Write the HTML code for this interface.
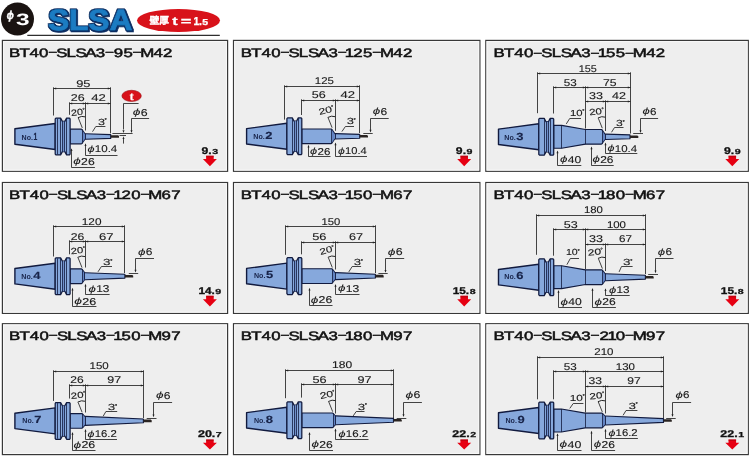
<!DOCTYPE html>
<html lang="ja"><head><meta charset="utf-8"><title>SLSA φ3</title>
<style>html,body{margin:0;padding:0;background:#fff}svg{display:block;will-change:transform;text-rendering:geometricPrecision;font-family:"Liberation Sans",sans-serif}.cjk{font-family:"Liberation Sans","Noto Sans CJK JP",sans-serif}.serif{font-family:"Liberation Serif",serif}</style></head>
<body>
<svg width="750" height="458" viewBox="0 0 750 458" >
<rect width="750" height="458" fill="#fff"/>
<path d="M27.30 35.40L219.80 35.40" stroke="#2e2e2e" stroke-width="1.3" fill="none"/>
<circle cx="17.5" cy="19.1" r="16.5" fill="#1a1311"/>
<text x="6.7" y="19.0" font-size="11.5" font-weight="bold" font-style="italic" fill="#fff" stroke="#fff" stroke-width="0.5" textLength="7.0" lengthAdjust="spacingAndGlyphs">ϕ</text>
<text x="16.00" y="25.40" font-size="16.6" font-weight="bold" fill="#fff" textLength="13.60" lengthAdjust="spacingAndGlyphs" >3</text>
<defs><filter id="sh" x="-5%" y="-10%" width="110%" height="130%"><feMorphology in="SourceAlpha" operator="dilate" radius="0.9" result="d"/><feOffset in="d" dx="1" dy="1" result="o"/><feMerge result="m"><feMergeNode in="d"/><feMergeNode in="o"/></feMerge><feFlood flood-color="#0d2f63"/><feComposite in2="m" operator="in" result="s"/><feMerge><feMergeNode in="s"/><feMergeNode in="SourceGraphic"/></feMerge></filter></defs>
<text x="47.9" y="30.0" font-weight="bold" font-size="29.4" fill="#1b7bc2" stroke="#1b7bc2" stroke-width="0.7" stroke-linejoin="round" filter="url(#sh)" textLength="84.5" lengthAdjust="spacingAndGlyphs">SLSA</text>
<ellipse cx="178.5" cy="20.5" rx="41.5" ry="11.5" fill="#d8121a"/>
<text x="149.6" y="24.4" font-size="9.8" font-weight="bold" fill="#fff" class="cjk" stroke="#fff" stroke-width="0.45" textLength="19.4" lengthAdjust="spacingAndGlyphs">壁厚</text>
<g stroke="#fff" stroke-width="0.3">
<text x="172.30" y="24.80" font-size="11.6" font-weight="bold" fill="#fff" textLength="5.40" lengthAdjust="spacingAndGlyphs" >t</text>
<text x="180.80" y="24.60" font-size="11.6" font-weight="bold" fill="#fff" textLength="10.60" lengthAdjust="spacingAndGlyphs" >=</text>
<text x="193.40" y="24.80" font-size="11.6" font-weight="bold" fill="#fff" textLength="8.60" lengthAdjust="spacingAndGlyphs" >1.</text>
<text x="202.30" y="24.80" font-size="8.6" font-weight="bold" fill="#fff" textLength="5.80" lengthAdjust="spacingAndGlyphs" >5</text>
</g>
<rect x="2.40" y="40.40" width="225.20" height="130.90" fill="#eeeeee" stroke="#383838" stroke-width="1.2"/>
<rect x="3.60" y="41.60" width="222.80" height="128.50" fill="none" stroke="#f8f8f8" stroke-width="1.0"/>
<rect x="233.50" y="40.40" width="246.40" height="130.90" fill="#eeeeee" stroke="#383838" stroke-width="1.2"/>
<rect x="234.70" y="41.60" width="244.00" height="128.50" fill="none" stroke="#f8f8f8" stroke-width="1.0"/>
<rect x="485.80" y="40.40" width="262.50" height="130.90" fill="#eeeeee" stroke="#383838" stroke-width="1.2"/>
<rect x="487.00" y="41.60" width="260.10" height="128.50" fill="none" stroke="#f8f8f8" stroke-width="1.0"/>
<rect x="2.40" y="182.50" width="225.20" height="130.90" fill="#eeeeee" stroke="#383838" stroke-width="1.2"/>
<rect x="3.60" y="183.70" width="222.80" height="128.50" fill="none" stroke="#f8f8f8" stroke-width="1.0"/>
<rect x="233.50" y="182.50" width="246.40" height="130.90" fill="#eeeeee" stroke="#383838" stroke-width="1.2"/>
<rect x="234.70" y="183.70" width="244.00" height="128.50" fill="none" stroke="#f8f8f8" stroke-width="1.0"/>
<rect x="485.80" y="182.50" width="262.50" height="130.90" fill="#eeeeee" stroke="#383838" stroke-width="1.2"/>
<rect x="487.00" y="183.70" width="260.10" height="128.50" fill="none" stroke="#f8f8f8" stroke-width="1.0"/>
<rect x="2.40" y="323.70" width="225.20" height="130.90" fill="#eeeeee" stroke="#383838" stroke-width="1.2"/>
<rect x="3.60" y="324.90" width="222.80" height="128.50" fill="none" stroke="#f8f8f8" stroke-width="1.0"/>
<rect x="233.50" y="323.70" width="246.40" height="130.90" fill="#eeeeee" stroke="#383838" stroke-width="1.2"/>
<rect x="234.70" y="324.90" width="244.00" height="128.50" fill="none" stroke="#f8f8f8" stroke-width="1.0"/>
<rect x="485.80" y="323.70" width="262.50" height="130.90" fill="#eeeeee" stroke="#383838" stroke-width="1.2"/>
<rect x="487.00" y="324.90" width="260.10" height="128.50" fill="none" stroke="#f8f8f8" stroke-width="1.0"/>
<text transform="scale(1.38 1)" x="6.57 14.07 21.41 28.35 35.02 40.78 48.13 54.73 61.70 69.39 76.02 82.45 89.44 96.10 101.69 111.25 118.19" y="56.80" font-size="12.2" fill="#111" stroke="#111" stroke-width="0.5">BT40<tspan font-size="11.2" dy="-0.4">−</tspan><tspan dy="0.4">S</tspan>LSA3<tspan font-size="11.2" dy="-0.4">−</tspan><tspan dy="0.4">9</tspan>5<tspan font-size="11.2" dy="-0.4">−</tspan><tspan dy="0.4">M</tspan>42</text>
<polygon points="14.90,128.80 55.20,123.50 55.20,149.50 14.90,144.20" fill="#86a8dc" stroke="#111a3e" stroke-width="1.4" stroke-linejoin="round"/>
<polygon points="70.10,129.15 81.41,129.15 82.01,129.60 84.90,133.78 85.60,133.78 110.70,134.60 110.70,138.40 85.60,139.22 84.90,139.22 82.01,143.40 81.41,143.85 70.10,143.85" fill="#86a8dc" stroke="#111a3e" stroke-width="1.15" stroke-linejoin="round"/>
<polygon points="82.01,129.70 84.90,134.08 84.90,138.92 82.01,143.30" fill="#5676b8" opacity="0.75"/>
<path d="M82.50 129.50L82.50 143.50" stroke="#111a3e" stroke-width="0.8" fill="none"/>
<path d="M85.50 133.78L85.50 139.22" stroke="#111a3e" stroke-width="0.9" fill="none"/>
<path d="M110.70 135.20H118.10L119.00 136.10V137.80H110.70Z" fill="#2a2422"/>
<path d="M55.90 118.10H60.60L62.40 121.40H64.80L66.60 118.10H69.50L70.10 118.90V154.10L69.50 154.90H66.60L64.80 151.60H62.40L60.60 154.90H55.90L55.20 154.10V118.90Z" fill="#86a8dc" stroke="#111a3e" stroke-width="1.25" stroke-linejoin="round"/>
<rect x="62.60" y="121.40" width="2.0" height="30.20" fill="#6f8fcb"/>
<path d="M57.50 118.70L57.50 154.30" stroke="#111a3e" stroke-width="0.8" fill="none"/>
<path d="M60.50 118.50L60.50 154.50" stroke="#111a3e" stroke-width="0.8" fill="none"/>
<path d="M62.50 121.40L62.50 151.60" stroke="#111a3e" stroke-width="0.8" fill="none"/>
<path d="M64.50 121.40L64.50 151.60" stroke="#111a3e" stroke-width="0.8" fill="none"/>
<path d="M66.50 118.50L66.50 154.50" stroke="#111a3e" stroke-width="0.8" fill="none"/>
<path d="M53.50 88.50L110.50 88.50" stroke="#242424" stroke-width="0.85" fill="none"/>
<polygon points="53.50,88.50 56.20,87.50 56.20,89.50" fill="#242424"/>
<polygon points="110.50,88.50 107.80,87.50 107.80,89.50" fill="#242424"/>
<path d="M53.50 87.30L53.50 115.50" stroke="#242424" stroke-width="0.85" fill="none"/>
<path d="M110.50 87.30L110.50 133.30" stroke="#242424" stroke-width="0.85" fill="none"/>
<text x="76.20" y="86.50" font-size="9.8" font-weight="normal" fill="#1a1a1a" textLength="14.30" lengthAdjust="spacingAndGlyphs" stroke="#1a1a1a" stroke-width="0.12" >95</text>
<path d="M69.50 103.50L110.50 103.50" stroke="#242424" stroke-width="0.85" fill="none"/>
<polygon points="69.50,103.50 72.20,102.50 72.20,104.50" fill="#242424"/>
<polygon points="85.50,103.50 82.80,102.50 82.80,104.50" fill="#242424"/>
<polygon points="85.50,103.50 88.20,102.50 88.20,104.50" fill="#242424"/>
<polygon points="110.50,103.50 107.80,102.50 107.80,104.50" fill="#242424"/>
<path d="M69.50 102.30L69.50 114.80" stroke="#242424" stroke-width="0.85" fill="none"/>
<path d="M85.50 102.30L85.50 130.50" stroke="#242424" stroke-width="0.85" fill="none"/>
<text x="70.80" y="101.00" font-size="9.8" font-weight="normal" fill="#1a1a1a" textLength="13.90" lengthAdjust="spacingAndGlyphs" stroke="#1a1a1a" stroke-width="0.12" >26</text>
<text x="91.20" y="101.00" font-size="9.8" font-weight="normal" fill="#1a1a1a" textLength="14.60" lengthAdjust="spacingAndGlyphs" stroke="#1a1a1a" stroke-width="0.12" >42</text>
<g transform="rotate(-6 71.7 115.9)">
<text x="71.30" y="115.90" font-size="8.8" font-weight="normal" fill="#1a1a1a" textLength="12.20" lengthAdjust="spacingAndGlyphs" stroke="#1a1a1a" stroke-width="0.12" >20</text>
<text x="83.20" y="113.30" font-size="5.6" font-weight="normal" fill="#1a1a1a" stroke="#1a1a1a" stroke-width="0.25" >°</text>
</g>
<path d="M82.30 127.90L78.30 117.90" stroke="#242424" stroke-width="0.85" fill="none"/>
<path d="M77.90 117.70Q81.80 115.50 85.30 116.90" stroke="#242424" stroke-width="1.0" fill="none"/>
<g >
<text x="97.90" y="125.00" font-size="8.8" font-weight="normal" fill="#1a1a1a" textLength="7.00" lengthAdjust="spacingAndGlyphs" stroke="#1a1a1a" stroke-width="0.12" >3</text>
<text x="104.60" y="122.40" font-size="5.6" font-weight="normal" fill="#1a1a1a" stroke="#1a1a1a" stroke-width="0.25" >°</text>
</g>
<path d="M105.40 126.50H95.80L92.50 131.70" stroke="#242424" stroke-width="0.85" fill="none"/>
<text x="87.50" y="151.95" font-size="8.91" font-style="italic" fill="#1a1a1a" stroke="#1a1a1a" stroke-width="0.06" textLength="7.05" lengthAdjust="spacingAndGlyphs">ϕ</text>
<text x="94.85" y="152.25" font-size="9.9" font-weight="normal" fill="#1a1a1a" textLength="22.45" lengthAdjust="spacingAndGlyphs" stroke="#1a1a1a" stroke-width="0.12" >10.4</text>
<path d="M117.50 155.50H85.50V144.30" stroke="#242424" stroke-width="0.85" fill="none"/>
<polygon points="85.50,143.30 84.50,146.00 86.50,146.00" fill="#242424"/>
<text x="73.30" y="164.25" font-size="8.91" font-style="italic" fill="#1a1a1a" stroke="#1a1a1a" stroke-width="0.06" textLength="7.53" lengthAdjust="spacingAndGlyphs">ϕ</text>
<text x="81.13" y="164.55" font-size="9.9" font-weight="normal" fill="#1a1a1a" textLength="13.57" lengthAdjust="spacingAndGlyphs" stroke="#1a1a1a" stroke-width="0.12" >26</text>
<path d="M94.90 167.50H71.50V149.20" stroke="#242424" stroke-width="0.85" fill="none"/>
<polygon points="71.50,148.20 70.50,150.90 72.50,150.90" fill="#242424"/>
<text x="21.60" y="139.80" font-size="7.3" font-weight="bold" fill="#18244a" textLength="11.40" lengthAdjust="spacingAndGlyphs" >No.</text>
<text x="33.50" y="139.80" font-size="10.3" font-weight="bold" fill="#18244a" textLength="3.80" lengthAdjust="spacingAndGlyphs" stroke="#18244a" stroke-width="0.15" >1</text>
<ellipse cx="131.6" cy="95.9" rx="9.7" ry="5.6" fill="#d8121a" stroke="#9a0a10" stroke-width="0.6"/>
<text x="131.6" y="99.7" font-size="11.5" font-weight="bold" fill="#fff" stroke="#fff" stroke-width="0.3" text-anchor="middle" class="serif">t</text>
<path d="M138.6 103.5H123.5V129.5" stroke="#242424" stroke-width="0.85" fill="none"/>
<polygon points="123.50,133.00 122.50,130.30 124.50,130.30" fill="#242424"/>
<path d="M112.40 133.50L132.60 133.50" stroke="#242424" stroke-width="0.85" fill="none"/>
<path d="M119.50 135.50L126.00 135.50" stroke="#242424" stroke-width="0.85" fill="none"/>
<path d="M123.50 139.00L123.50 143.60" stroke="#242424" stroke-width="0.85" fill="none"/>
<polygon points="123.50,136.20 122.50,138.90 124.50,138.90" fill="#242424"/>
<text x="132.70" y="115.40" font-size="8.91" font-style="italic" fill="#1a1a1a" stroke="#1a1a1a" stroke-width="0.06" textLength="7.71" lengthAdjust="spacingAndGlyphs">ϕ</text>
<text x="140.71" y="115.70" font-size="9.9" font-weight="normal" fill="#1a1a1a" textLength="6.89" lengthAdjust="spacingAndGlyphs" stroke="#1a1a1a" stroke-width="0.12" >6</text>
<path d="M149.10 118.50H131.50V132.00" stroke="#242424" stroke-width="0.85" fill="none"/>
<polygon points="131.50,133.00 130.50,130.30 132.50,130.30" fill="#242424"/>
<text x="201.55" y="153.70" font-size="9.7" font-weight="bold" fill="#111" textLength="10.20" lengthAdjust="spacingAndGlyphs" stroke="#111" stroke-width="0.3" >9.</text>
<text x="212.25" y="153.70" font-size="7.2" font-weight="bold" fill="#111" textLength="5.90" lengthAdjust="spacingAndGlyphs" stroke="#111" stroke-width="0.25" >3</text>
<polygon points="206.12,155.70 213.68,155.70 213.68,159.06 216.90,159.06 209.90,166.20 202.90,159.06 206.12,159.06" fill="#e60012"/>
<polygon points="206.12,155.70 213.68,155.70 213.68,157.30 206.12,157.30" fill="#a8000c" opacity="0.55"/>
<text transform="scale(1.38 1)" x="174.50 182.09 189.51 196.54 203.29 209.12 216.55 223.24 230.30 238.07 244.78 249.90 255.90 262.97 269.71 275.39 285.04 292.06" y="56.80" font-size="12.2" fill="#111" stroke="#111" stroke-width="0.5">BT40<tspan font-size="11.2" dy="-0.4">−</tspan><tspan dy="0.4">S</tspan>LSA3<tspan font-size="11.2" dy="-0.4">−</tspan><tspan dy="0.4">1</tspan>25<tspan font-size="11.2" dy="-0.4">−</tspan><tspan dy="0.4">M</tspan>42</text>
<polygon points="246.60,128.60 286.90,123.30 286.90,149.30 246.60,144.00" fill="#86a8dc" stroke="#111a3e" stroke-width="1.4" stroke-linejoin="round"/>
<polygon points="301.80,128.95 331.21,128.95 331.81,129.40 334.70,133.58 335.40,133.58 359.70,134.40 359.70,138.20 335.40,139.02 334.70,139.02 331.81,143.20 331.21,143.65 301.80,143.65" fill="#86a8dc" stroke="#111a3e" stroke-width="1.15" stroke-linejoin="round"/>
<polygon points="331.81,129.50 334.70,133.88 334.70,138.72 331.81,143.10" fill="#5676b8" opacity="0.75"/>
<path d="M331.50 129.30L331.50 143.30" stroke="#111a3e" stroke-width="0.8" fill="none"/>
<path d="M335.50 133.58L335.50 139.02" stroke="#111a3e" stroke-width="0.9" fill="none"/>
<path d="M359.70 135.00H367.10L368.00 135.90V137.60H359.70Z" fill="#2a2422"/>
<path d="M287.60 117.90H292.30L294.10 121.20H296.50L298.30 117.90H301.20L301.80 118.70V153.90L301.20 154.70H298.30L296.50 151.40H294.10L292.30 154.70H287.60L286.90 153.90V118.70Z" fill="#86a8dc" stroke="#111a3e" stroke-width="1.25" stroke-linejoin="round"/>
<rect x="294.30" y="121.20" width="2.0" height="30.20" fill="#6f8fcb"/>
<path d="M292.50 118.30L292.50 154.30" stroke="#111a3e" stroke-width="0.8" fill="none"/>
<path d="M294.50 121.20L294.50 151.40" stroke="#111a3e" stroke-width="0.8" fill="none"/>
<path d="M296.50 121.20L296.50 151.40" stroke="#111a3e" stroke-width="0.8" fill="none"/>
<path d="M298.50 118.30L298.50 154.30" stroke="#111a3e" stroke-width="0.8" fill="none"/>
<path d="M284.50 86.50L359.50 86.50" stroke="#242424" stroke-width="0.85" fill="none"/>
<polygon points="284.50,86.50 287.20,85.50 287.20,87.50" fill="#242424"/>
<polygon points="359.50,86.50 356.80,85.50 356.80,87.50" fill="#242424"/>
<path d="M284.50 85.30L284.50 119.60" stroke="#242424" stroke-width="0.85" fill="none"/>
<path d="M359.50 85.30L359.50 133.00" stroke="#242424" stroke-width="0.85" fill="none"/>
<text x="314.80" y="84.20" font-size="9.8" font-weight="normal" fill="#1a1a1a" textLength="19.10" lengthAdjust="spacingAndGlyphs" stroke="#1a1a1a" stroke-width="0.12" >125</text>
<path d="M301.50 100.50L359.50 100.50" stroke="#242424" stroke-width="0.85" fill="none"/>
<polygon points="301.50,100.50 304.20,99.50 304.20,101.50" fill="#242424"/>
<polygon points="335.50,100.50 332.80,99.50 332.80,101.50" fill="#242424"/>
<polygon points="335.50,100.50 338.20,99.50 338.20,101.50" fill="#242424"/>
<polygon points="359.50,100.50 356.80,99.50 356.80,101.50" fill="#242424"/>
<path d="M301.50 99.30L301.50 115.00" stroke="#242424" stroke-width="0.85" fill="none"/>
<path d="M335.50 99.30L335.50 130.80" stroke="#242424" stroke-width="0.85" fill="none"/>
<text x="311.80" y="98.30" font-size="9.8" font-weight="normal" fill="#1a1a1a" textLength="14.00" lengthAdjust="spacingAndGlyphs" stroke="#1a1a1a" stroke-width="0.12" >56</text>
<text x="340.50" y="98.30" font-size="9.8" font-weight="normal" fill="#1a1a1a" textLength="14.50" lengthAdjust="spacingAndGlyphs" stroke="#1a1a1a" stroke-width="0.12" >42</text>
<g transform="rotate(-14.5 319.8 115.0)">
<text x="319.40" y="115.00" font-size="8.8" font-weight="normal" fill="#1a1a1a" textLength="13.70" lengthAdjust="spacingAndGlyphs" stroke="#1a1a1a" stroke-width="0.12" >20</text>
<text x="332.80" y="112.40" font-size="5.6" font-weight="normal" fill="#1a1a1a" stroke="#1a1a1a" stroke-width="0.25" >°</text>
</g>
<path d="M332.10 127.70L328.10 117.70" stroke="#242424" stroke-width="0.85" fill="none"/>
<path d="M327.70 117.50Q331.60 115.30 335.10 116.70" stroke="#242424" stroke-width="1.0" fill="none"/>
<g >
<text x="346.70" y="124.30" font-size="8.8" font-weight="normal" fill="#1a1a1a" textLength="7.20" lengthAdjust="spacingAndGlyphs" stroke="#1a1a1a" stroke-width="0.12" >3</text>
<text x="353.60" y="121.70" font-size="5.6" font-weight="normal" fill="#1a1a1a" stroke="#1a1a1a" stroke-width="0.25" >°</text>
</g>
<path d="M354.00 126.50H345.40L341.90 131.60" stroke="#242424" stroke-width="0.85" fill="none"/>
<text x="310.00" y="154.25" font-size="8.91" font-style="italic" fill="#1a1a1a" stroke="#1a1a1a" stroke-width="0.06" textLength="7.17" lengthAdjust="spacingAndGlyphs">ϕ</text>
<text x="317.47" y="154.55" font-size="9.9" font-weight="normal" fill="#1a1a1a" textLength="12.83" lengthAdjust="spacingAndGlyphs" stroke="#1a1a1a" stroke-width="0.12" >26</text>
<path d="M330.50 156.50H308.50V145.80" stroke="#242424" stroke-width="0.85" fill="none"/>
<polygon points="308.50,144.80 307.50,147.50 309.50,147.50" fill="#242424"/>
<text x="338.00" y="153.95" font-size="8.91" font-style="italic" fill="#1a1a1a" stroke="#1a1a1a" stroke-width="0.06" textLength="6.83" lengthAdjust="spacingAndGlyphs">ϕ</text>
<text x="345.13" y="154.25" font-size="9.9" font-weight="normal" fill="#1a1a1a" textLength="21.67" lengthAdjust="spacingAndGlyphs" stroke="#1a1a1a" stroke-width="0.12" >10.4</text>
<path d="M367.00 156.50H335.50V143.50" stroke="#242424" stroke-width="0.85" fill="none"/>
<polygon points="335.50,142.50 334.50,145.20 336.50,145.20" fill="#242424"/>
<text x="253.30" y="139.40" font-size="7.3" font-weight="bold" fill="#18244a" textLength="11.40" lengthAdjust="spacingAndGlyphs" >No.</text>
<text x="265.20" y="139.40" font-size="10.3" font-weight="bold" fill="#18244a" textLength="7.20" lengthAdjust="spacingAndGlyphs" stroke="#18244a" stroke-width="0.15" >2</text>
<text x="372.70" y="114.40" font-size="8.91" font-style="italic" fill="#1a1a1a" stroke="#1a1a1a" stroke-width="0.06" textLength="7.51" lengthAdjust="spacingAndGlyphs">ϕ</text>
<text x="380.51" y="114.70" font-size="9.9" font-weight="normal" fill="#1a1a1a" textLength="6.69" lengthAdjust="spacingAndGlyphs" stroke="#1a1a1a" stroke-width="0.12" >6</text>
<path d="M388.70 118.50H370.50V131.40" stroke="#242424" stroke-width="0.85" fill="none"/>
<polygon points="370.50,132.40 369.50,129.70 371.50,129.70" fill="#242424"/>
<path d="M363.30 133.50L372.70 133.50" stroke="#242424" stroke-width="0.85" fill="none"/>
<text x="455.85" y="153.70" font-size="9.7" font-weight="bold" fill="#111" textLength="10.20" lengthAdjust="spacingAndGlyphs" stroke="#111" stroke-width="0.3" >9.</text>
<text x="466.55" y="153.70" font-size="7.2" font-weight="bold" fill="#111" textLength="5.90" lengthAdjust="spacingAndGlyphs" stroke="#111" stroke-width="0.25" >9</text>
<polygon points="460.42,155.70 467.98,155.70 467.98,159.06 471.20,159.06 464.20,166.20 457.20,159.06 460.42,159.06" fill="#e60012"/>
<polygon points="460.42,155.70 467.98,155.70 467.98,157.30 460.42,157.30" fill="#a8000c" opacity="0.55"/>
<text transform="scale(1.38 1)" x="357.69 365.28 372.70 379.73 386.47 392.31 399.74 406.43 413.48 421.26 427.97 433.09 439.10 446.16 452.90 458.58 468.23 475.25" y="57.00" font-size="12.2" fill="#111" stroke="#111" stroke-width="0.5">BT40<tspan font-size="11.2" dy="-0.4">−</tspan><tspan dy="0.4">S</tspan>LSA3<tspan font-size="11.2" dy="-0.4">−</tspan><tspan dy="0.4">1</tspan>55<tspan font-size="11.2" dy="-0.4">−</tspan><tspan dy="0.4">M</tspan>42</text>
<polygon points="498.50,129.10 538.80,123.80 538.80,149.80 498.50,144.50" fill="#86a8dc" stroke="#111a3e" stroke-width="1.4" stroke-linejoin="round"/>
<polygon points="553.70,125.35 561.60,125.35 585.40,129.45 601.41,129.45 602.01,129.90 604.90,134.08 605.60,134.08 630.00,134.90 630.00,138.70 605.60,139.52 604.90,139.52 602.01,143.70 601.41,144.15 585.40,144.15 561.60,148.25 553.70,148.25" fill="#86a8dc" stroke="#111a3e" stroke-width="1.15" stroke-linejoin="round"/>
<path d="M561.50 125.35L561.50 148.25" stroke="#111a3e" stroke-width="0.8" fill="none"/>
<path d="M585.50 129.45L585.50 144.15" stroke="#111a3e" stroke-width="0.8" fill="none"/>
<polygon points="602.01,130.00 604.90,134.38 604.90,139.22 602.01,143.60" fill="#5676b8" opacity="0.75"/>
<path d="M602.50 129.80L602.50 143.80" stroke="#111a3e" stroke-width="0.8" fill="none"/>
<path d="M605.50 134.08L605.50 139.52" stroke="#111a3e" stroke-width="0.9" fill="none"/>
<path d="M630.00 135.50H637.40L638.30 136.40V138.10H630.00Z" fill="#2a2422"/>
<path d="M539.50 118.40H544.20L546.00 121.70H548.40L550.20 118.40H553.10L553.70 119.20V154.40L553.10 155.20H550.20L548.40 151.90H546.00L544.20 155.20H539.50L538.80 154.40V119.20Z" fill="#86a8dc" stroke="#111a3e" stroke-width="1.25" stroke-linejoin="round"/>
<rect x="546.20" y="121.70" width="2.0" height="30.20" fill="#6f8fcb"/>
<path d="M544.50 118.80L544.50 154.80" stroke="#111a3e" stroke-width="0.8" fill="none"/>
<path d="M546.50 121.70L546.50 151.90" stroke="#111a3e" stroke-width="0.8" fill="none"/>
<path d="M548.50 121.70L548.50 151.90" stroke="#111a3e" stroke-width="0.8" fill="none"/>
<path d="M550.50 118.80L550.50 154.80" stroke="#111a3e" stroke-width="0.8" fill="none"/>
<path d="M537.50 73.50L630.50 73.50" stroke="#242424" stroke-width="0.85" fill="none"/>
<polygon points="537.50,73.50 540.20,72.50 540.20,74.50" fill="#242424"/>
<polygon points="630.50,73.50 627.80,72.50 627.80,74.50" fill="#242424"/>
<path d="M537.50 72.30L537.50 113.20" stroke="#242424" stroke-width="0.85" fill="none"/>
<path d="M630.50 72.30L630.50 133.50" stroke="#242424" stroke-width="0.85" fill="none"/>
<text x="578.80" y="71.60" font-size="9.8" font-weight="normal" fill="#1a1a1a" textLength="18.10" lengthAdjust="spacingAndGlyphs" stroke="#1a1a1a" stroke-width="0.12" >155</text>
<path d="M553.50 87.50L630.50 87.50" stroke="#242424" stroke-width="0.85" fill="none"/>
<polygon points="553.50,87.50 556.20,86.50 556.20,88.50" fill="#242424"/>
<polygon points="585.50,87.50 582.80,86.50 582.80,88.50" fill="#242424"/>
<polygon points="585.50,87.50 588.20,86.50 588.20,88.50" fill="#242424"/>
<polygon points="630.50,87.50 627.80,86.50 627.80,88.50" fill="#242424"/>
<path d="M553.50 86.30L553.50 113.50" stroke="#242424" stroke-width="0.85" fill="none"/>
<path d="M585.50 86.30L585.50 128.50" stroke="#242424" stroke-width="0.85" fill="none"/>
<text x="563.80" y="86.30" font-size="9.8" font-weight="normal" fill="#1a1a1a" textLength="13.00" lengthAdjust="spacingAndGlyphs" stroke="#1a1a1a" stroke-width="0.12" >53</text>
<text x="602.90" y="86.30" font-size="9.8" font-weight="normal" fill="#1a1a1a" textLength="13.60" lengthAdjust="spacingAndGlyphs" stroke="#1a1a1a" stroke-width="0.12" >75</text>
<path d="M585.50 101.50L630.50 101.50" stroke="#242424" stroke-width="0.85" fill="none"/>
<polygon points="585.50,101.50 588.20,100.50 588.20,102.50" fill="#242424"/>
<polygon points="605.50,101.50 602.80,100.50 602.80,102.50" fill="#242424"/>
<polygon points="605.50,101.50 608.20,100.50 608.20,102.50" fill="#242424"/>
<polygon points="630.50,101.50 627.80,100.50 627.80,102.50" fill="#242424"/>
<path d="M605.50 100.30L605.50 131.00" stroke="#242424" stroke-width="0.85" fill="none"/>
<text x="588.90" y="99.40" font-size="9.8" font-weight="normal" fill="#1a1a1a" textLength="14.00" lengthAdjust="spacingAndGlyphs" stroke="#1a1a1a" stroke-width="0.12" >33</text>
<text x="612.00" y="99.40" font-size="9.8" font-weight="normal" fill="#1a1a1a" textLength="14.00" lengthAdjust="spacingAndGlyphs" stroke="#1a1a1a" stroke-width="0.12" >42</text>
<g >
<text x="569.90" y="116.00" font-size="8.8" font-weight="normal" fill="#1a1a1a" textLength="12.60" lengthAdjust="spacingAndGlyphs" stroke="#1a1a1a" stroke-width="0.12" >10</text>
<text x="582.20" y="113.40" font-size="5.6" font-weight="normal" fill="#1a1a1a" stroke="#1a1a1a" stroke-width="0.25" >°</text>
</g>
<path d="M581.00 118.50H569.70L566.30 123.90" stroke="#242424" stroke-width="0.85" fill="none"/>
<g transform="rotate(-6 589.8 115.3)">
<text x="589.40" y="115.30" font-size="8.8" font-weight="normal" fill="#1a1a1a" textLength="12.90" lengthAdjust="spacingAndGlyphs" stroke="#1a1a1a" stroke-width="0.12" >20</text>
<text x="602.00" y="112.70" font-size="5.6" font-weight="normal" fill="#1a1a1a" stroke="#1a1a1a" stroke-width="0.25" >°</text>
</g>
<path d="M602.30 128.20L598.30 118.20" stroke="#242424" stroke-width="0.85" fill="none"/>
<path d="M597.90 118.00Q601.80 115.80 605.30 117.20" stroke="#242424" stroke-width="1.0" fill="none"/>
<g >
<text x="616.10" y="126.10" font-size="8.8" font-weight="normal" fill="#1a1a1a" textLength="6.80" lengthAdjust="spacingAndGlyphs" stroke="#1a1a1a" stroke-width="0.12" >3</text>
<text x="622.60" y="123.50" font-size="5.6" font-weight="normal" fill="#1a1a1a" stroke="#1a1a1a" stroke-width="0.25" >°</text>
</g>
<path d="M623.50 127.50H614.50L611.50 132.30" stroke="#242424" stroke-width="0.85" fill="none"/>
<text x="607.50" y="151.25" font-size="8.91" font-style="italic" fill="#1a1a1a" stroke="#1a1a1a" stroke-width="0.06" textLength="7.00" lengthAdjust="spacingAndGlyphs">ϕ</text>
<text x="614.80" y="151.55" font-size="9.9" font-weight="normal" fill="#1a1a1a" textLength="22.30" lengthAdjust="spacingAndGlyphs" stroke="#1a1a1a" stroke-width="0.12" >10.4</text>
<path d="M637.30 153.50H605.50V143.60" stroke="#242424" stroke-width="0.85" fill="none"/>
<polygon points="605.50,142.60 604.50,145.30 606.50,145.30" fill="#242424"/>
<text x="559.90" y="162.45" font-size="8.91" font-style="italic" fill="#1a1a1a" stroke="#1a1a1a" stroke-width="0.06" textLength="7.46" lengthAdjust="spacingAndGlyphs">ϕ</text>
<text x="567.66" y="162.75" font-size="9.9" font-weight="normal" fill="#1a1a1a" textLength="13.44" lengthAdjust="spacingAndGlyphs" stroke="#1a1a1a" stroke-width="0.12" >40</text>
<path d="M581.30 165.50H557.50V151.60" stroke="#242424" stroke-width="0.85" fill="none"/>
<polygon points="557.50,150.60 556.50,153.30 558.50,153.30" fill="#242424"/>
<text x="592.50" y="162.45" font-size="8.91" font-style="italic" fill="#1a1a1a" stroke="#1a1a1a" stroke-width="0.06" textLength="7.40" lengthAdjust="spacingAndGlyphs">ϕ</text>
<text x="600.20" y="162.75" font-size="9.9" font-weight="normal" fill="#1a1a1a" textLength="13.30" lengthAdjust="spacingAndGlyphs" stroke="#1a1a1a" stroke-width="0.12" >26</text>
<path d="M613.70 165.50H591.50V147.60" stroke="#242424" stroke-width="0.85" fill="none"/>
<polygon points="591.50,146.60 590.50,149.30 592.50,149.30" fill="#242424"/>
<text x="504.30" y="140.10" font-size="7.3" font-weight="bold" fill="#18244a" textLength="11.40" lengthAdjust="spacingAndGlyphs" >No.</text>
<text x="516.20" y="140.10" font-size="10.3" font-weight="bold" fill="#18244a" textLength="7.20" lengthAdjust="spacingAndGlyphs" stroke="#18244a" stroke-width="0.15" >3</text>
<text x="642.50" y="114.30" font-size="8.91" font-style="italic" fill="#1a1a1a" stroke="#1a1a1a" stroke-width="0.06" textLength="7.32" lengthAdjust="spacingAndGlyphs">ϕ</text>
<text x="650.12" y="114.60" font-size="9.9" font-weight="normal" fill="#1a1a1a" textLength="6.48" lengthAdjust="spacingAndGlyphs" stroke="#1a1a1a" stroke-width="0.12" >6</text>
<path d="M658.10 118.50H640.50V131.90" stroke="#242424" stroke-width="0.85" fill="none"/>
<polygon points="640.50,132.90 639.50,130.20 641.50,130.20" fill="#242424"/>
<path d="M633.20 133.50L643.00 133.50" stroke="#242424" stroke-width="0.85" fill="none"/>
<text x="723.95" y="153.70" font-size="9.7" font-weight="bold" fill="#111" textLength="10.20" lengthAdjust="spacingAndGlyphs" stroke="#111" stroke-width="0.3" >9.</text>
<text x="734.65" y="153.70" font-size="7.2" font-weight="bold" fill="#111" textLength="5.90" lengthAdjust="spacingAndGlyphs" stroke="#111" stroke-width="0.25" >9</text>
<polygon points="728.52,155.70 736.08,155.70 736.08,159.06 739.30,159.06 732.30,166.20 725.30,159.06 728.52,159.06" fill="#e60012"/>
<polygon points="728.52,155.70 736.08,155.70 736.08,157.30 728.52,157.30" fill="#a8000c" opacity="0.55"/>
<text transform="scale(1.38 1)" x="6.61 14.19 21.62 28.64 35.39 41.22 48.66 55.34 62.40 70.17 76.88 82.00 88.00 95.06 101.81 107.49 117.06 124.16" y="198.80" font-size="12.2" fill="#111" stroke="#111" stroke-width="0.5">BT40<tspan font-size="11.2" dy="-0.4">−</tspan><tspan dy="0.4">S</tspan>LSA3<tspan font-size="11.2" dy="-0.4">−</tspan><tspan dy="0.4">1</tspan>20<tspan font-size="11.2" dy="-0.4">−</tspan><tspan dy="0.4">M</tspan>67</text>
<polygon points="14.90,268.50 55.20,263.20 55.20,289.20 14.90,283.90" fill="#86a8dc" stroke="#111a3e" stroke-width="1.4" stroke-linejoin="round"/>
<polygon points="70.10,268.85 81.47,268.85 82.06,269.30 84.60,272.70 85.30,272.70 124.90,274.30 124.90,278.10 85.30,279.70 84.60,279.70 82.06,283.10 81.47,283.55 70.10,283.55" fill="#86a8dc" stroke="#111a3e" stroke-width="1.15" stroke-linejoin="round"/>
<polygon points="82.06,269.40 84.60,273.00 84.60,279.40 82.06,283.00" fill="#5676b8" opacity="0.75"/>
<path d="M82.50 269.20L82.50 283.20" stroke="#111a3e" stroke-width="0.8" fill="none"/>
<path d="M84.50 272.70L84.50 279.70" stroke="#111a3e" stroke-width="0.9" fill="none"/>
<path d="M124.90 274.90H132.30L133.20 275.80V277.50H124.90Z" fill="#2a2422"/>
<path d="M55.90 257.80H60.60L62.40 261.10H64.80L66.60 257.80H69.50L70.10 258.60V293.80L69.50 294.60H66.60L64.80 291.30H62.40L60.60 294.60H55.90L55.20 293.80V258.60Z" fill="#86a8dc" stroke="#111a3e" stroke-width="1.25" stroke-linejoin="round"/>
<rect x="62.60" y="261.10" width="2.0" height="30.20" fill="#6f8fcb"/>
<path d="M57.50 258.40L57.50 294.00" stroke="#111a3e" stroke-width="0.8" fill="none"/>
<path d="M60.50 258.20L60.50 294.20" stroke="#111a3e" stroke-width="0.8" fill="none"/>
<path d="M62.50 261.10L62.50 291.30" stroke="#111a3e" stroke-width="0.8" fill="none"/>
<path d="M64.50 261.10L64.50 291.30" stroke="#111a3e" stroke-width="0.8" fill="none"/>
<path d="M66.50 258.20L66.50 294.20" stroke="#111a3e" stroke-width="0.8" fill="none"/>
<path d="M53.50 226.50L124.50 226.50" stroke="#242424" stroke-width="0.85" fill="none"/>
<polygon points="53.50,226.50 56.20,225.50 56.20,227.50" fill="#242424"/>
<polygon points="124.50,226.50 121.80,225.50 121.80,227.50" fill="#242424"/>
<path d="M53.50 225.30L53.50 256.50" stroke="#242424" stroke-width="0.85" fill="none"/>
<path d="M124.50 225.30L124.50 273.00" stroke="#242424" stroke-width="0.85" fill="none"/>
<text x="81.80" y="225.20" font-size="9.8" font-weight="normal" fill="#1a1a1a" textLength="19.70" lengthAdjust="spacingAndGlyphs" stroke="#1a1a1a" stroke-width="0.12" >120</text>
<path d="M69.50 241.50L124.50 241.50" stroke="#242424" stroke-width="0.85" fill="none"/>
<polygon points="69.50,241.50 72.20,240.50 72.20,242.50" fill="#242424"/>
<polygon points="85.50,241.50 82.80,240.50 82.80,242.50" fill="#242424"/>
<polygon points="85.50,241.50 88.20,240.50 88.20,242.50" fill="#242424"/>
<polygon points="124.50,241.50 121.80,240.50 121.80,242.50" fill="#242424"/>
<path d="M69.50 240.30L69.50 254.30" stroke="#242424" stroke-width="0.85" fill="none"/>
<path d="M85.50 240.30L85.50 267.50" stroke="#242424" stroke-width="0.85" fill="none"/>
<text x="70.80" y="239.70" font-size="9.8" font-weight="normal" fill="#1a1a1a" textLength="13.60" lengthAdjust="spacingAndGlyphs" stroke="#1a1a1a" stroke-width="0.12" >26</text>
<text x="98.90" y="239.70" font-size="9.8" font-weight="normal" fill="#1a1a1a" textLength="14.60" lengthAdjust="spacingAndGlyphs" stroke="#1a1a1a" stroke-width="0.12" >67</text>
<g transform="rotate(-6 71.3 254.1)">
<text x="70.90" y="254.10" font-size="8.8" font-weight="normal" fill="#1a1a1a" textLength="12.70" lengthAdjust="spacingAndGlyphs" stroke="#1a1a1a" stroke-width="0.12" >20</text>
<text x="83.30" y="251.50" font-size="5.6" font-weight="normal" fill="#1a1a1a" stroke="#1a1a1a" stroke-width="0.25" >°</text>
</g>
<path d="M82.00 267.60L78.00 257.60" stroke="#242424" stroke-width="0.85" fill="none"/>
<path d="M77.60 257.40Q81.50 255.20 85.00 256.60" stroke="#242424" stroke-width="1.0" fill="none"/>
<g >
<text x="103.00" y="265.40" font-size="8.8" font-weight="normal" fill="#1a1a1a" textLength="7.50" lengthAdjust="spacingAndGlyphs" stroke="#1a1a1a" stroke-width="0.12" >3</text>
<text x="110.20" y="262.80" font-size="5.6" font-weight="normal" fill="#1a1a1a" stroke="#1a1a1a" stroke-width="0.25" >°</text>
</g>
<path d="M112.00 266.50H101.40L98.00 271.80" stroke="#242424" stroke-width="0.85" fill="none"/>
<text x="88.50" y="291.65" font-size="8.91" font-style="italic" fill="#1a1a1a" stroke="#1a1a1a" stroke-width="0.06" textLength="7.37" lengthAdjust="spacingAndGlyphs">ϕ</text>
<text x="96.17" y="291.95" font-size="9.9" font-weight="normal" fill="#1a1a1a" textLength="13.23" lengthAdjust="spacingAndGlyphs" stroke="#1a1a1a" stroke-width="0.12" >13</text>
<path d="M109.60 294.50H85.50V284.80" stroke="#242424" stroke-width="0.85" fill="none"/>
<polygon points="85.50,283.80 84.50,286.50 86.50,286.50" fill="#242424"/>
<text x="74.20" y="304.25" font-size="8.91" font-style="italic" fill="#1a1a1a" stroke="#1a1a1a" stroke-width="0.06" textLength="7.73" lengthAdjust="spacingAndGlyphs">ϕ</text>
<text x="82.23" y="304.55" font-size="9.9" font-weight="normal" fill="#1a1a1a" textLength="13.97" lengthAdjust="spacingAndGlyphs" stroke="#1a1a1a" stroke-width="0.12" >26</text>
<path d="M96.40 306.50H72.50V288.70" stroke="#242424" stroke-width="0.85" fill="none"/>
<polygon points="72.50,287.70 71.50,290.40 73.50,290.40" fill="#242424"/>
<text x="21.30" y="278.80" font-size="7.3" font-weight="bold" fill="#18244a" textLength="11.40" lengthAdjust="spacingAndGlyphs" >No.</text>
<text x="33.20" y="278.80" font-size="10.3" font-weight="bold" fill="#18244a" textLength="7.20" lengthAdjust="spacingAndGlyphs" stroke="#18244a" stroke-width="0.15" >4</text>
<text x="138.00" y="254.50" font-size="8.91" font-style="italic" fill="#1a1a1a" stroke="#1a1a1a" stroke-width="0.06" textLength="7.51" lengthAdjust="spacingAndGlyphs">ϕ</text>
<text x="145.81" y="254.80" font-size="9.9" font-weight="normal" fill="#1a1a1a" textLength="6.69" lengthAdjust="spacingAndGlyphs" stroke="#1a1a1a" stroke-width="0.12" >6</text>
<path d="M154.00 258.50H135.50V271.40" stroke="#242424" stroke-width="0.85" fill="none"/>
<polygon points="135.50,272.40 134.50,269.70 136.50,269.70" fill="#242424"/>
<path d="M128.80 273.50L138.20 273.50" stroke="#242424" stroke-width="0.85" fill="none"/>
<text x="198.45" y="293.90" font-size="9.7" font-weight="bold" fill="#111" textLength="16.40" lengthAdjust="spacingAndGlyphs" stroke="#111" stroke-width="0.3" >14.</text>
<text x="215.35" y="293.90" font-size="7.2" font-weight="bold" fill="#111" textLength="5.90" lengthAdjust="spacingAndGlyphs" stroke="#111" stroke-width="0.25" >9</text>
<polygon points="206.12,295.80 213.68,295.80 213.68,299.19 216.90,299.19 209.90,306.40 202.90,299.19 206.12,299.19" fill="#e60012"/>
<polygon points="206.12,295.80 213.68,295.80 213.68,297.40 206.12,297.40" fill="#a8000c" opacity="0.55"/>
<text transform="scale(1.38 1)" x="174.50 182.09 189.51 196.54 203.29 209.12 216.55 223.24 230.30 238.07 244.78 249.90 255.91 262.96 269.71 275.39 284.96 292.06" y="198.80" font-size="12.2" fill="#111" stroke="#111" stroke-width="0.5">BT40<tspan font-size="11.2" dy="-0.4">−</tspan><tspan dy="0.4">S</tspan>LSA3<tspan font-size="11.2" dy="-0.4">−</tspan><tspan dy="0.4">1</tspan>50<tspan font-size="11.2" dy="-0.4">−</tspan><tspan dy="0.4">M</tspan>67</text>
<polygon points="246.60,268.40 286.90,263.10 286.90,289.10 246.60,283.80" fill="#86a8dc" stroke="#111a3e" stroke-width="1.4" stroke-linejoin="round"/>
<polygon points="301.80,268.75 331.76,268.75 332.37,269.20 334.90,272.60 335.60,272.60 375.40,274.20 375.40,278.00 335.60,279.60 334.90,279.60 332.37,283.00 331.76,283.45 301.80,283.45" fill="#86a8dc" stroke="#111a3e" stroke-width="1.15" stroke-linejoin="round"/>
<polygon points="332.37,269.30 334.90,272.90 334.90,279.30 332.37,282.90" fill="#5676b8" opacity="0.75"/>
<path d="M332.50 269.10L332.50 283.10" stroke="#111a3e" stroke-width="0.8" fill="none"/>
<path d="M335.50 272.60L335.50 279.60" stroke="#111a3e" stroke-width="0.9" fill="none"/>
<path d="M375.40 274.80H382.80L383.70 275.70V277.40H375.40Z" fill="#2a2422"/>
<path d="M287.60 257.70H292.30L294.10 261.00H296.50L298.30 257.70H301.20L301.80 258.50V293.70L301.20 294.50H298.30L296.50 291.20H294.10L292.30 294.50H287.60L286.90 293.70V258.50Z" fill="#86a8dc" stroke="#111a3e" stroke-width="1.25" stroke-linejoin="round"/>
<rect x="294.30" y="261.00" width="2.0" height="30.20" fill="#6f8fcb"/>
<path d="M292.50 258.10L292.50 294.10" stroke="#111a3e" stroke-width="0.8" fill="none"/>
<path d="M294.50 261.00L294.50 291.20" stroke="#111a3e" stroke-width="0.8" fill="none"/>
<path d="M296.50 261.00L296.50 291.20" stroke="#111a3e" stroke-width="0.8" fill="none"/>
<path d="M298.50 258.10L298.50 294.10" stroke="#111a3e" stroke-width="0.8" fill="none"/>
<path d="M285.50 226.50L375.50 226.50" stroke="#242424" stroke-width="0.85" fill="none"/>
<polygon points="285.50,226.50 288.20,225.50 288.20,227.50" fill="#242424"/>
<polygon points="375.50,226.50 372.80,225.50 372.80,227.50" fill="#242424"/>
<path d="M285.50 225.30L285.50 254.80" stroke="#242424" stroke-width="0.85" fill="none"/>
<path d="M375.50 225.30L375.50 273.00" stroke="#242424" stroke-width="0.85" fill="none"/>
<text x="321.50" y="225.20" font-size="9.8" font-weight="normal" fill="#1a1a1a" textLength="18.80" lengthAdjust="spacingAndGlyphs" stroke="#1a1a1a" stroke-width="0.12" >150</text>
<path d="M301.50 242.50L375.50 242.50" stroke="#242424" stroke-width="0.85" fill="none"/>
<polygon points="301.50,242.50 304.20,241.50 304.20,243.50" fill="#242424"/>
<polygon points="335.50,242.50 332.80,241.50 332.80,243.50" fill="#242424"/>
<polygon points="335.50,242.50 338.20,241.50 338.20,243.50" fill="#242424"/>
<polygon points="375.50,242.50 372.80,241.50 372.80,243.50" fill="#242424"/>
<path d="M301.50 241.30L301.50 254.30" stroke="#242424" stroke-width="0.85" fill="none"/>
<path d="M335.50 241.30L335.50 269.50" stroke="#242424" stroke-width="0.85" fill="none"/>
<text x="312.20" y="240.30" font-size="9.8" font-weight="normal" fill="#1a1a1a" textLength="14.30" lengthAdjust="spacingAndGlyphs" stroke="#1a1a1a" stroke-width="0.12" >56</text>
<text x="348.90" y="240.30" font-size="9.8" font-weight="normal" fill="#1a1a1a" textLength="14.10" lengthAdjust="spacingAndGlyphs" stroke="#1a1a1a" stroke-width="0.12" >67</text>
<g transform="rotate(-15.5 320.9 255.0)">
<text x="320.50" y="255.00" font-size="8.8" font-weight="normal" fill="#1a1a1a" textLength="13.10" lengthAdjust="spacingAndGlyphs" stroke="#1a1a1a" stroke-width="0.12" >20</text>
<text x="333.30" y="252.40" font-size="5.6" font-weight="normal" fill="#1a1a1a" stroke="#1a1a1a" stroke-width="0.25" >°</text>
</g>
<path d="M332.30 267.50L328.30 257.50" stroke="#242424" stroke-width="0.85" fill="none"/>
<path d="M327.90 257.30Q331.80 255.10 335.30 256.50" stroke="#242424" stroke-width="1.0" fill="none"/>
<g >
<text x="353.80" y="265.30" font-size="8.8" font-weight="normal" fill="#1a1a1a" textLength="7.30" lengthAdjust="spacingAndGlyphs" stroke="#1a1a1a" stroke-width="0.12" >3</text>
<text x="360.80" y="262.70" font-size="5.6" font-weight="normal" fill="#1a1a1a" stroke="#1a1a1a" stroke-width="0.25" >°</text>
</g>
<path d="M361.10 266.50H352.20L348.80 271.90" stroke="#242424" stroke-width="0.85" fill="none"/>
<text x="338.00" y="291.35" font-size="8.91" font-style="italic" fill="#1a1a1a" stroke="#1a1a1a" stroke-width="0.06" textLength="7.50" lengthAdjust="spacingAndGlyphs">ϕ</text>
<text x="345.80" y="291.65" font-size="9.9" font-weight="normal" fill="#1a1a1a" textLength="13.50" lengthAdjust="spacingAndGlyphs" stroke="#1a1a1a" stroke-width="0.12" >13</text>
<path d="M359.50 294.50H335.50V285.00" stroke="#242424" stroke-width="0.85" fill="none"/>
<polygon points="335.50,284.00 334.50,286.70 336.50,286.70" fill="#242424"/>
<text x="310.70" y="302.85" font-size="8.91" font-style="italic" fill="#1a1a1a" stroke="#1a1a1a" stroke-width="0.06" textLength="7.59" lengthAdjust="spacingAndGlyphs">ϕ</text>
<text x="318.59" y="303.15" font-size="9.9" font-weight="normal" fill="#1a1a1a" textLength="13.71" lengthAdjust="spacingAndGlyphs" stroke="#1a1a1a" stroke-width="0.12" >26</text>
<path d="M332.50 305.50H309.50V288.80" stroke="#242424" stroke-width="0.85" fill="none"/>
<polygon points="309.50,287.80 308.50,290.50 310.50,290.50" fill="#242424"/>
<text x="254.00" y="278.40" font-size="7.3" font-weight="bold" fill="#18244a" textLength="11.40" lengthAdjust="spacingAndGlyphs" >No.</text>
<text x="265.90" y="278.40" font-size="10.3" font-weight="bold" fill="#18244a" textLength="7.20" lengthAdjust="spacingAndGlyphs" stroke="#18244a" stroke-width="0.15" >5</text>
<text x="387.80" y="254.50" font-size="8.91" font-style="italic" fill="#1a1a1a" stroke="#1a1a1a" stroke-width="0.06" textLength="7.71" lengthAdjust="spacingAndGlyphs">ϕ</text>
<text x="395.81" y="254.80" font-size="9.9" font-weight="normal" fill="#1a1a1a" textLength="6.89" lengthAdjust="spacingAndGlyphs" stroke="#1a1a1a" stroke-width="0.12" >6</text>
<path d="M404.20 258.50H385.50V271.70" stroke="#242424" stroke-width="0.85" fill="none"/>
<polygon points="385.50,272.70 384.50,270.00 386.50,270.00" fill="#242424"/>
<path d="M378.40 273.50L387.70 273.50" stroke="#242424" stroke-width="0.85" fill="none"/>
<text x="452.75" y="293.90" font-size="9.7" font-weight="bold" fill="#111" textLength="16.40" lengthAdjust="spacingAndGlyphs" stroke="#111" stroke-width="0.3" >15.</text>
<text x="469.65" y="293.90" font-size="7.2" font-weight="bold" fill="#111" textLength="5.90" lengthAdjust="spacingAndGlyphs" stroke="#111" stroke-width="0.25" >8</text>
<polygon points="460.42,295.80 467.98,295.80 467.98,299.19 471.20,299.19 464.20,306.40 457.20,299.19 460.42,299.19" fill="#e60012"/>
<polygon points="460.42,295.80 467.98,295.80 467.98,297.40 460.42,297.40" fill="#a8000c" opacity="0.55"/>
<text transform="scale(1.38 1)" x="357.69 365.28 372.70 379.73 386.47 392.31 399.74 406.43 413.48 421.26 427.97 433.09 439.09 446.15 452.90 458.58 468.15 475.24" y="198.80" font-size="12.2" fill="#111" stroke="#111" stroke-width="0.5">BT40<tspan font-size="11.2" dy="-0.4">−</tspan><tspan dy="0.4">S</tspan>LSA3<tspan font-size="11.2" dy="-0.4">−</tspan><tspan dy="0.4">1</tspan>80<tspan font-size="11.2" dy="-0.4">−</tspan><tspan dy="0.4">M</tspan>67</text>
<polygon points="498.50,269.50 538.80,264.20 538.80,290.20 498.50,284.90" fill="#86a8dc" stroke="#111a3e" stroke-width="1.4" stroke-linejoin="round"/>
<polygon points="553.70,265.75 561.60,265.75 585.40,269.85 601.87,269.85 602.47,270.30 605.00,273.70 605.70,273.70 645.40,275.30 645.40,279.10 605.70,280.70 605.00,280.70 602.47,284.10 601.87,284.55 585.40,284.55 561.60,288.65 553.70,288.65" fill="#86a8dc" stroke="#111a3e" stroke-width="1.15" stroke-linejoin="round"/>
<path d="M561.50 265.75L561.50 288.65" stroke="#111a3e" stroke-width="0.8" fill="none"/>
<path d="M585.50 269.85L585.50 284.55" stroke="#111a3e" stroke-width="0.8" fill="none"/>
<polygon points="602.47,270.40 605.00,274.00 605.00,280.40 602.47,284.00" fill="#5676b8" opacity="0.75"/>
<path d="M602.50 270.20L602.50 284.20" stroke="#111a3e" stroke-width="0.8" fill="none"/>
<path d="M605.50 273.70L605.50 280.70" stroke="#111a3e" stroke-width="0.9" fill="none"/>
<path d="M645.40 275.90H652.80L653.70 276.80V278.50H645.40Z" fill="#2a2422"/>
<path d="M539.50 258.80H544.20L546.00 262.10H548.40L550.20 258.80H553.10L553.70 259.60V294.80L553.10 295.60H550.20L548.40 292.30H546.00L544.20 295.60H539.50L538.80 294.80V259.60Z" fill="#86a8dc" stroke="#111a3e" stroke-width="1.25" stroke-linejoin="round"/>
<rect x="546.20" y="262.10" width="2.0" height="30.20" fill="#6f8fcb"/>
<path d="M544.50 259.20L544.50 295.20" stroke="#111a3e" stroke-width="0.8" fill="none"/>
<path d="M546.50 262.10L546.50 292.30" stroke="#111a3e" stroke-width="0.8" fill="none"/>
<path d="M548.50 262.10L548.50 292.30" stroke="#111a3e" stroke-width="0.8" fill="none"/>
<path d="M550.50 259.20L550.50 295.20" stroke="#111a3e" stroke-width="0.8" fill="none"/>
<path d="M536.50 215.50L645.50 215.50" stroke="#242424" stroke-width="0.85" fill="none"/>
<polygon points="536.50,215.50 539.20,214.50 539.20,216.50" fill="#242424"/>
<polygon points="645.50,215.50 642.80,214.50 642.80,216.50" fill="#242424"/>
<path d="M536.50 214.30L536.50 254.80" stroke="#242424" stroke-width="0.85" fill="none"/>
<path d="M645.50 214.30L645.50 274.00" stroke="#242424" stroke-width="0.85" fill="none"/>
<text x="583.90" y="212.60" font-size="9.8" font-weight="normal" fill="#1a1a1a" textLength="19.00" lengthAdjust="spacingAndGlyphs" stroke="#1a1a1a" stroke-width="0.12" >180</text>
<path d="M553.50 229.50L645.50 229.50" stroke="#242424" stroke-width="0.85" fill="none"/>
<polygon points="553.50,229.50 556.20,228.50 556.20,230.50" fill="#242424"/>
<polygon points="585.50,229.50 582.80,228.50 582.80,230.50" fill="#242424"/>
<polygon points="585.50,229.50 588.20,228.50 588.20,230.50" fill="#242424"/>
<polygon points="645.50,229.50 642.80,228.50 642.80,230.50" fill="#242424"/>
<path d="M553.50 228.30L553.50 255.70" stroke="#242424" stroke-width="0.85" fill="none"/>
<path d="M585.50 228.30L585.50 269.00" stroke="#242424" stroke-width="0.85" fill="none"/>
<text x="563.80" y="227.70" font-size="9.8" font-weight="normal" fill="#1a1a1a" textLength="14.00" lengthAdjust="spacingAndGlyphs" stroke="#1a1a1a" stroke-width="0.12" >53</text>
<text x="606.90" y="227.70" font-size="9.8" font-weight="normal" fill="#1a1a1a" textLength="19.10" lengthAdjust="spacingAndGlyphs" stroke="#1a1a1a" stroke-width="0.12" >100</text>
<path d="M585.50 244.50L645.50 244.50" stroke="#242424" stroke-width="0.85" fill="none"/>
<polygon points="585.50,244.50 588.20,243.50 588.20,245.50" fill="#242424"/>
<polygon points="605.50,244.50 602.80,243.50 602.80,245.50" fill="#242424"/>
<polygon points="605.50,244.50 608.20,243.50 608.20,245.50" fill="#242424"/>
<polygon points="645.50,244.50 642.80,243.50 642.80,245.50" fill="#242424"/>
<path d="M605.50 243.30L605.50 271.00" stroke="#242424" stroke-width="0.85" fill="none"/>
<text x="588.90" y="241.70" font-size="9.8" font-weight="normal" fill="#1a1a1a" textLength="14.00" lengthAdjust="spacingAndGlyphs" stroke="#1a1a1a" stroke-width="0.12" >33</text>
<text x="619.00" y="241.70" font-size="9.8" font-weight="normal" fill="#1a1a1a" textLength="13.00" lengthAdjust="spacingAndGlyphs" stroke="#1a1a1a" stroke-width="0.12" >67</text>
<g >
<text x="565.90" y="255.40" font-size="8.8" font-weight="normal" fill="#1a1a1a" textLength="11.80" lengthAdjust="spacingAndGlyphs" stroke="#1a1a1a" stroke-width="0.12" >10</text>
<text x="577.40" y="252.80" font-size="5.6" font-weight="normal" fill="#1a1a1a" stroke="#1a1a1a" stroke-width="0.25" >°</text>
</g>
<path d="M579.00 258.50H570.30L566.90 264.70" stroke="#242424" stroke-width="0.85" fill="none"/>
<g transform="rotate(-6 588.4 255.7)">
<text x="588.00" y="255.70" font-size="8.8" font-weight="normal" fill="#1a1a1a" textLength="13.50" lengthAdjust="spacingAndGlyphs" stroke="#1a1a1a" stroke-width="0.12" >20</text>
<text x="601.20" y="253.10" font-size="5.6" font-weight="normal" fill="#1a1a1a" stroke="#1a1a1a" stroke-width="0.25" >°</text>
</g>
<path d="M602.40 268.60L598.40 258.60" stroke="#242424" stroke-width="0.85" fill="none"/>
<path d="M598.00 258.40Q601.90 256.20 605.40 257.60" stroke="#242424" stroke-width="1.0" fill="none"/>
<g >
<text x="623.10" y="265.10" font-size="8.8" font-weight="normal" fill="#1a1a1a" textLength="7.50" lengthAdjust="spacingAndGlyphs" stroke="#1a1a1a" stroke-width="0.12" >3</text>
<text x="630.30" y="262.50" font-size="5.6" font-weight="normal" fill="#1a1a1a" stroke="#1a1a1a" stroke-width="0.25" >°</text>
</g>
<path d="M632.60 266.50H621.50L619.10 271.90" stroke="#242424" stroke-width="0.85" fill="none"/>
<text x="608.90" y="292.65" font-size="8.91" font-style="italic" fill="#1a1a1a" stroke="#1a1a1a" stroke-width="0.06" textLength="7.27" lengthAdjust="spacingAndGlyphs">ϕ</text>
<text x="616.47" y="292.95" font-size="9.9" font-weight="normal" fill="#1a1a1a" textLength="13.03" lengthAdjust="spacingAndGlyphs" stroke="#1a1a1a" stroke-width="0.12" >13</text>
<path d="M629.70 295.50H605.50V289.20" stroke="#242424" stroke-width="0.85" fill="none"/>
<polygon points="605.50,288.20 604.50,290.90 606.50,290.90" fill="#242424"/>
<text x="560.50" y="304.65" font-size="8.91" font-style="italic" fill="#1a1a1a" stroke="#1a1a1a" stroke-width="0.06" textLength="7.50" lengthAdjust="spacingAndGlyphs">ϕ</text>
<text x="568.30" y="304.95" font-size="9.9" font-weight="normal" fill="#1a1a1a" textLength="13.50" lengthAdjust="spacingAndGlyphs" stroke="#1a1a1a" stroke-width="0.12" >40</text>
<path d="M582.00 307.50H558.50V291.00" stroke="#242424" stroke-width="0.85" fill="none"/>
<polygon points="558.50,290.00 557.50,292.70 559.50,292.70" fill="#242424"/>
<text x="594.50" y="304.65" font-size="8.91" font-style="italic" fill="#1a1a1a" stroke="#1a1a1a" stroke-width="0.06" textLength="7.46" lengthAdjust="spacingAndGlyphs">ϕ</text>
<text x="602.26" y="304.95" font-size="9.9" font-weight="normal" fill="#1a1a1a" textLength="13.44" lengthAdjust="spacingAndGlyphs" stroke="#1a1a1a" stroke-width="0.12" >26</text>
<path d="M615.90 307.50H592.50V289.00" stroke="#242424" stroke-width="0.85" fill="none"/>
<polygon points="592.50,288.00 591.50,290.70 593.50,290.70" fill="#242424"/>
<text x="504.30" y="279.40" font-size="7.3" font-weight="bold" fill="#18244a" textLength="11.40" lengthAdjust="spacingAndGlyphs" >No.</text>
<text x="516.20" y="279.40" font-size="10.3" font-weight="bold" fill="#18244a" textLength="7.20" lengthAdjust="spacingAndGlyphs" stroke="#18244a" stroke-width="0.15" >6</text>
<text x="657.80" y="254.70" font-size="8.91" font-style="italic" fill="#1a1a1a" stroke="#1a1a1a" stroke-width="0.06" textLength="7.37" lengthAdjust="spacingAndGlyphs">ϕ</text>
<text x="665.47" y="255.00" font-size="9.9" font-weight="normal" fill="#1a1a1a" textLength="6.53" lengthAdjust="spacingAndGlyphs" stroke="#1a1a1a" stroke-width="0.12" >6</text>
<path d="M673.50 258.50H655.50V272.20" stroke="#242424" stroke-width="0.85" fill="none"/>
<polygon points="655.50,273.20 654.50,270.50 656.50,270.50" fill="#242424"/>
<path d="M648.20 274.50L658.00 274.50" stroke="#242424" stroke-width="0.85" fill="none"/>
<text x="720.85" y="293.90" font-size="9.7" font-weight="bold" fill="#111" textLength="16.40" lengthAdjust="spacingAndGlyphs" stroke="#111" stroke-width="0.3" >15.</text>
<text x="737.75" y="293.90" font-size="7.2" font-weight="bold" fill="#111" textLength="5.90" lengthAdjust="spacingAndGlyphs" stroke="#111" stroke-width="0.25" >8</text>
<polygon points="728.52,295.80 736.08,295.80 736.08,299.19 739.30,299.19 732.30,306.40 725.30,299.19 728.52,299.19" fill="#e60012"/>
<polygon points="728.52,295.80 736.08,295.80 736.08,297.40 728.52,297.40" fill="#a8000c" opacity="0.55"/>
<text transform="scale(1.38 1)" x="6.61 14.19 21.62 28.64 35.39 41.22 48.66 55.34 62.40 70.17 76.88 82.00 88.01 95.06 101.81 107.49 117.10 124.16" y="339.60" font-size="12.2" fill="#111" stroke="#111" stroke-width="0.5">BT40<tspan font-size="11.2" dy="-0.4">−</tspan><tspan dy="0.4">S</tspan>LSA3<tspan font-size="11.2" dy="-0.4">−</tspan><tspan dy="0.4">1</tspan>50<tspan font-size="11.2" dy="-0.4">−</tspan><tspan dy="0.4">M</tspan>97</text>
<polygon points="14.90,413.20 55.20,407.90 55.20,433.90 14.90,428.60" fill="#86a8dc" stroke="#111a3e" stroke-width="1.4" stroke-linejoin="round"/>
<polygon points="70.10,413.55 81.90,413.55 82.50,414.00 84.70,416.44 85.40,416.44 143.40,419.00 143.40,422.80 85.40,425.36 84.70,425.36 82.50,427.80 81.90,428.25 70.10,428.25" fill="#86a8dc" stroke="#111a3e" stroke-width="1.15" stroke-linejoin="round"/>
<polygon points="82.50,414.10 84.70,416.74 84.70,425.06 82.50,427.70" fill="#5676b8" opacity="0.75"/>
<path d="M82.50 413.90L82.50 427.90" stroke="#111a3e" stroke-width="0.8" fill="none"/>
<path d="M85.50 416.44L85.50 425.36" stroke="#111a3e" stroke-width="0.9" fill="none"/>
<path d="M143.40 419.60H150.80L151.70 420.50V422.20H143.40Z" fill="#2a2422"/>
<path d="M55.90 402.50H60.60L62.40 405.80H64.80L66.60 402.50H69.50L70.10 403.30V438.50L69.50 439.30H66.60L64.80 436.00H62.40L60.60 439.30H55.90L55.20 438.50V403.30Z" fill="#86a8dc" stroke="#111a3e" stroke-width="1.25" stroke-linejoin="round"/>
<rect x="62.60" y="405.80" width="2.0" height="30.20" fill="#6f8fcb"/>
<path d="M57.50 403.10L57.50 438.70" stroke="#111a3e" stroke-width="0.8" fill="none"/>
<path d="M60.50 402.90L60.50 438.90" stroke="#111a3e" stroke-width="0.8" fill="none"/>
<path d="M62.50 405.80L62.50 436.00" stroke="#111a3e" stroke-width="0.8" fill="none"/>
<path d="M64.50 405.80L64.50 436.00" stroke="#111a3e" stroke-width="0.8" fill="none"/>
<path d="M66.50 402.90L66.50 438.90" stroke="#111a3e" stroke-width="0.8" fill="none"/>
<path d="M53.50 371.50L143.50 371.50" stroke="#242424" stroke-width="0.85" fill="none"/>
<polygon points="53.50,371.50 56.20,370.50 56.20,372.50" fill="#242424"/>
<polygon points="143.50,371.50 140.80,370.50 140.80,372.50" fill="#242424"/>
<path d="M53.50 370.30L53.50 400.90" stroke="#242424" stroke-width="0.85" fill="none"/>
<path d="M143.50 370.30L143.50 418.00" stroke="#242424" stroke-width="0.85" fill="none"/>
<text x="89.50" y="368.80" font-size="9.8" font-weight="normal" fill="#1a1a1a" textLength="19.20" lengthAdjust="spacingAndGlyphs" stroke="#1a1a1a" stroke-width="0.12" >150</text>
<path d="M69.50 385.50L143.50 385.50" stroke="#242424" stroke-width="0.85" fill="none"/>
<polygon points="69.50,385.50 72.20,384.50 72.20,386.50" fill="#242424"/>
<polygon points="85.50,385.50 82.80,384.50 82.80,386.50" fill="#242424"/>
<polygon points="85.50,385.50 88.20,384.50 88.20,386.50" fill="#242424"/>
<polygon points="143.50,385.50 140.80,384.50 140.80,386.50" fill="#242424"/>
<path d="M69.50 384.30L69.50 398.50" stroke="#242424" stroke-width="0.85" fill="none"/>
<path d="M85.50 384.30L85.50 412.50" stroke="#242424" stroke-width="0.85" fill="none"/>
<text x="70.30" y="383.10" font-size="9.8" font-weight="normal" fill="#1a1a1a" textLength="13.40" lengthAdjust="spacingAndGlyphs" stroke="#1a1a1a" stroke-width="0.12" >26</text>
<text x="107.20" y="383.10" font-size="9.8" font-weight="normal" fill="#1a1a1a" textLength="13.90" lengthAdjust="spacingAndGlyphs" stroke="#1a1a1a" stroke-width="0.12" >97</text>
<g transform="rotate(-6 71.4 398.9)">
<text x="71.00" y="398.90" font-size="8.8" font-weight="normal" fill="#1a1a1a" textLength="12.90" lengthAdjust="spacingAndGlyphs" stroke="#1a1a1a" stroke-width="0.12" >20</text>
<text x="83.60" y="396.30" font-size="5.6" font-weight="normal" fill="#1a1a1a" stroke="#1a1a1a" stroke-width="0.25" >°</text>
</g>
<path d="M82.10 412.30L78.10 402.30" stroke="#242424" stroke-width="0.85" fill="none"/>
<path d="M77.70 402.10Q81.60 399.90 85.10 401.30" stroke="#242424" stroke-width="1.0" fill="none"/>
<g >
<text x="107.80" y="410.20" font-size="8.8" font-weight="normal" fill="#1a1a1a" textLength="7.50" lengthAdjust="spacingAndGlyphs" stroke="#1a1a1a" stroke-width="0.12" >3</text>
<text x="115.00" y="407.60" font-size="5.6" font-weight="normal" fill="#1a1a1a" stroke="#1a1a1a" stroke-width="0.25" >°</text>
</g>
<path d="M117.20 411.50H105.90L103.20 416.20" stroke="#242424" stroke-width="0.85" fill="none"/>
<text x="87.50" y="436.85" font-size="8.91" font-style="italic" fill="#1a1a1a" stroke="#1a1a1a" stroke-width="0.06" textLength="6.94" lengthAdjust="spacingAndGlyphs">ϕ</text>
<text x="94.74" y="437.15" font-size="9.9" font-weight="normal" fill="#1a1a1a" textLength="22.06" lengthAdjust="spacingAndGlyphs" stroke="#1a1a1a" stroke-width="0.12" >16.2</text>
<path d="M117.00 439.50H85.50V430.00" stroke="#242424" stroke-width="0.85" fill="none"/>
<polygon points="85.50,429.00 84.50,431.70 86.50,431.70" fill="#242424"/>
<text x="73.50" y="447.85" font-size="8.91" font-style="italic" fill="#1a1a1a" stroke="#1a1a1a" stroke-width="0.06" textLength="7.66" lengthAdjust="spacingAndGlyphs">ϕ</text>
<text x="81.46" y="448.15" font-size="9.9" font-weight="normal" fill="#1a1a1a" textLength="13.84" lengthAdjust="spacingAndGlyphs" stroke="#1a1a1a" stroke-width="0.12" >26</text>
<path d="M95.50 450.50H72.50V433.00" stroke="#242424" stroke-width="0.85" fill="none"/>
<polygon points="72.50,432.00 71.50,434.70 73.50,434.70" fill="#242424"/>
<text x="22.30" y="423.10" font-size="7.3" font-weight="bold" fill="#18244a" textLength="11.40" lengthAdjust="spacingAndGlyphs" >No.</text>
<text x="34.20" y="423.10" font-size="10.3" font-weight="bold" fill="#18244a" textLength="7.20" lengthAdjust="spacingAndGlyphs" stroke="#18244a" stroke-width="0.15" >7</text>
<text x="156.00" y="398.40" font-size="8.91" font-style="italic" fill="#1a1a1a" stroke="#1a1a1a" stroke-width="0.06" textLength="7.56" lengthAdjust="spacingAndGlyphs">ϕ</text>
<text x="163.86" y="398.70" font-size="9.9" font-weight="normal" fill="#1a1a1a" textLength="6.74" lengthAdjust="spacingAndGlyphs" stroke="#1a1a1a" stroke-width="0.12" >6</text>
<path d="M172.10 402.50H153.50V416.20" stroke="#242424" stroke-width="0.85" fill="none"/>
<polygon points="153.50,417.20 152.50,414.50 154.50,414.50" fill="#242424"/>
<path d="M146.70 418.50L156.50 418.50" stroke="#242424" stroke-width="0.85" fill="none"/>
<text x="197.95" y="436.90" font-size="9.7" font-weight="bold" fill="#111" textLength="17.40" lengthAdjust="spacingAndGlyphs" stroke="#111" stroke-width="0.3" >20.</text>
<text x="215.85" y="436.90" font-size="7.2" font-weight="bold" fill="#111" textLength="5.90" lengthAdjust="spacingAndGlyphs" stroke="#111" stroke-width="0.25" >7</text>
<polygon points="206.12,439.40 213.68,439.40 213.68,442.63 216.90,442.63 209.90,449.50 202.90,442.63 206.12,442.63" fill="#e60012"/>
<polygon points="206.12,439.40 213.68,439.40 213.68,441.00 206.12,441.00" fill="#a8000c" opacity="0.55"/>
<text transform="scale(1.38 1)" x="174.50 182.09 189.51 196.54 203.29 209.12 216.55 223.24 230.30 238.07 244.78 249.90 255.90 262.96 269.71 275.39 285.00 292.06" y="339.60" font-size="12.2" fill="#111" stroke="#111" stroke-width="0.5">BT40<tspan font-size="11.2" dy="-0.4">−</tspan><tspan dy="0.4">S</tspan>LSA3<tspan font-size="11.2" dy="-0.4">−</tspan><tspan dy="0.4">1</tspan>80<tspan font-size="11.2" dy="-0.4">−</tspan><tspan dy="0.4">M</tspan>97</text>
<polygon points="246.60,412.60 286.90,407.30 286.90,433.30 246.60,428.00" fill="#86a8dc" stroke="#111a3e" stroke-width="1.4" stroke-linejoin="round"/>
<polygon points="301.80,412.95 332.50,412.95 333.10,413.40 335.30,415.84 336.00,415.84 393.50,418.40 393.50,422.20 336.00,424.76 335.30,424.76 333.10,427.20 332.50,427.65 301.80,427.65" fill="#86a8dc" stroke="#111a3e" stroke-width="1.15" stroke-linejoin="round"/>
<polygon points="333.10,413.50 335.30,416.14 335.30,424.46 333.10,427.10" fill="#5676b8" opacity="0.75"/>
<path d="M333.50 413.30L333.50 427.30" stroke="#111a3e" stroke-width="0.8" fill="none"/>
<path d="M335.50 415.84L335.50 424.76" stroke="#111a3e" stroke-width="0.9" fill="none"/>
<path d="M393.50 419.00H400.90L401.80 419.90V421.60H393.50Z" fill="#2a2422"/>
<path d="M287.60 401.90H292.30L294.10 405.20H296.50L298.30 401.90H301.20L301.80 402.70V437.90L301.20 438.70H298.30L296.50 435.40H294.10L292.30 438.70H287.60L286.90 437.90V402.70Z" fill="#86a8dc" stroke="#111a3e" stroke-width="1.25" stroke-linejoin="round"/>
<rect x="294.30" y="405.20" width="2.0" height="30.20" fill="#6f8fcb"/>
<path d="M292.50 402.30L292.50 438.30" stroke="#111a3e" stroke-width="0.8" fill="none"/>
<path d="M294.50 405.20L294.50 435.40" stroke="#111a3e" stroke-width="0.8" fill="none"/>
<path d="M296.50 405.20L296.50 435.40" stroke="#111a3e" stroke-width="0.8" fill="none"/>
<path d="M298.50 402.30L298.50 438.30" stroke="#111a3e" stroke-width="0.8" fill="none"/>
<path d="M285.50 370.50L393.50 370.50" stroke="#242424" stroke-width="0.85" fill="none"/>
<polygon points="285.50,370.50 288.20,369.50 288.20,371.50" fill="#242424"/>
<polygon points="393.50,370.50 390.80,369.50 390.80,371.50" fill="#242424"/>
<path d="M285.50 369.30L285.50 398.20" stroke="#242424" stroke-width="0.85" fill="none"/>
<path d="M393.50 369.30L393.50 418.00" stroke="#242424" stroke-width="0.85" fill="none"/>
<text x="332.00" y="368.40" font-size="9.8" font-weight="normal" fill="#1a1a1a" textLength="20.10" lengthAdjust="spacingAndGlyphs" stroke="#1a1a1a" stroke-width="0.12" >180</text>
<path d="M301.50 384.50L393.50 384.50" stroke="#242424" stroke-width="0.85" fill="none"/>
<polygon points="301.50,384.50 304.20,383.50 304.20,385.50" fill="#242424"/>
<polygon points="335.50,384.50 332.80,383.50 332.80,385.50" fill="#242424"/>
<polygon points="335.50,384.50 338.20,383.50 338.20,385.50" fill="#242424"/>
<polygon points="393.50,384.50 390.80,383.50 390.80,385.50" fill="#242424"/>
<path d="M301.50 383.30L301.50 397.60" stroke="#242424" stroke-width="0.85" fill="none"/>
<path d="M335.50 383.30L335.50 413.50" stroke="#242424" stroke-width="0.85" fill="none"/>
<text x="312.50" y="382.90" font-size="9.8" font-weight="normal" fill="#1a1a1a" textLength="14.20" lengthAdjust="spacingAndGlyphs" stroke="#1a1a1a" stroke-width="0.12" >56</text>
<text x="357.40" y="382.90" font-size="9.8" font-weight="normal" fill="#1a1a1a" textLength="14.10" lengthAdjust="spacingAndGlyphs" stroke="#1a1a1a" stroke-width="0.12" >97</text>
<g transform="rotate(-11.5 320.8 399.0)">
<text x="320.40" y="399.00" font-size="8.8" font-weight="normal" fill="#1a1a1a" textLength="13.50" lengthAdjust="spacingAndGlyphs" stroke="#1a1a1a" stroke-width="0.12" >20</text>
<text x="333.60" y="396.40" font-size="5.6" font-weight="normal" fill="#1a1a1a" stroke="#1a1a1a" stroke-width="0.25" >°</text>
</g>
<path d="M332.70 411.70L328.70 401.70" stroke="#242424" stroke-width="0.85" fill="none"/>
<path d="M328.30 401.50Q332.20 399.30 335.70 400.70" stroke="#242424" stroke-width="1.0" fill="none"/>
<g >
<text x="357.70" y="409.50" font-size="8.8" font-weight="normal" fill="#1a1a1a" textLength="7.40" lengthAdjust="spacingAndGlyphs" stroke="#1a1a1a" stroke-width="0.12" >3</text>
<text x="364.80" y="406.90" font-size="5.6" font-weight="normal" fill="#1a1a1a" stroke="#1a1a1a" stroke-width="0.25" >°</text>
</g>
<path d="M364.50 411.50H356.20L353.20 415.90" stroke="#242424" stroke-width="0.85" fill="none"/>
<text x="338.50" y="436.85" font-size="8.91" font-style="italic" fill="#1a1a1a" stroke="#1a1a1a" stroke-width="0.06" textLength="7.05" lengthAdjust="spacingAndGlyphs">ϕ</text>
<text x="345.85" y="437.15" font-size="9.9" font-weight="normal" fill="#1a1a1a" textLength="22.45" lengthAdjust="spacingAndGlyphs" stroke="#1a1a1a" stroke-width="0.12" >16.2</text>
<path d="M368.50 439.50H335.50V429.50" stroke="#242424" stroke-width="0.85" fill="none"/>
<polygon points="335.50,428.50 334.50,431.20 336.50,431.20" fill="#242424"/>
<text x="311.50" y="447.35" font-size="8.91" font-style="italic" fill="#1a1a1a" stroke="#1a1a1a" stroke-width="0.06" textLength="7.50" lengthAdjust="spacingAndGlyphs">ϕ</text>
<text x="319.30" y="447.65" font-size="9.9" font-weight="normal" fill="#1a1a1a" textLength="13.50" lengthAdjust="spacingAndGlyphs" stroke="#1a1a1a" stroke-width="0.12" >26</text>
<path d="M333.00 450.50H309.50V433.00" stroke="#242424" stroke-width="0.85" fill="none"/>
<polygon points="309.50,432.00 308.50,434.70 310.50,434.70" fill="#242424"/>
<text x="253.90" y="423.10" font-size="7.3" font-weight="bold" fill="#18244a" textLength="11.40" lengthAdjust="spacingAndGlyphs" >No.</text>
<text x="265.80" y="423.10" font-size="10.3" font-weight="bold" fill="#18244a" textLength="7.20" lengthAdjust="spacingAndGlyphs" stroke="#18244a" stroke-width="0.15" >8</text>
<text x="405.50" y="398.10" font-size="8.91" font-style="italic" fill="#1a1a1a" stroke="#1a1a1a" stroke-width="0.06" textLength="7.71" lengthAdjust="spacingAndGlyphs">ϕ</text>
<text x="413.51" y="398.40" font-size="9.9" font-weight="normal" fill="#1a1a1a" textLength="6.89" lengthAdjust="spacingAndGlyphs" stroke="#1a1a1a" stroke-width="0.12" >6</text>
<path d="M421.90 402.50H403.50V415.90" stroke="#242424" stroke-width="0.85" fill="none"/>
<polygon points="403.50,416.90 402.50,414.20 404.50,414.20" fill="#242424"/>
<path d="M396.70 418.50L406.30 418.50" stroke="#242424" stroke-width="0.85" fill="none"/>
<text x="452.25" y="436.90" font-size="9.7" font-weight="bold" fill="#111" textLength="17.40" lengthAdjust="spacingAndGlyphs" stroke="#111" stroke-width="0.3" >22.</text>
<text x="470.15" y="436.90" font-size="7.2" font-weight="bold" fill="#111" textLength="5.90" lengthAdjust="spacingAndGlyphs" stroke="#111" stroke-width="0.25" >2</text>
<polygon points="460.42,439.40 467.98,439.40 467.98,442.63 471.20,442.63 464.20,449.50 457.20,442.63 460.42,442.63" fill="#e60012"/>
<polygon points="460.42,439.40 467.98,439.40 467.98,441.00 460.42,441.00" fill="#a8000c" opacity="0.55"/>
<text transform="scale(1.38 1)" x="357.69 365.28 372.70 379.73 386.47 392.31 399.74 406.43 413.48 421.26 427.97 434.48 440.15 446.15 452.90 458.58 468.19 475.24" y="339.60" font-size="12.2" fill="#111" stroke="#111" stroke-width="0.5">BT40<tspan font-size="11.2" dy="-0.4">−</tspan><tspan dy="0.4">S</tspan>LSA3<tspan font-size="11.2" dy="-0.4">−</tspan><tspan dy="0.4">2</tspan>10<tspan font-size="11.2" dy="-0.4">−</tspan><tspan dy="0.4">M</tspan>97</text>
<polygon points="498.50,412.80 538.80,407.50 538.80,433.50 498.50,428.20" fill="#86a8dc" stroke="#111a3e" stroke-width="1.4" stroke-linejoin="round"/>
<polygon points="553.70,409.05 561.40,409.05 585.20,413.15 602.10,413.15 602.70,413.60 604.90,416.04 605.60,416.04 663.50,418.60 663.50,422.40 605.60,424.96 604.90,424.96 602.70,427.40 602.10,427.85 585.20,427.85 561.40,431.95 553.70,431.95" fill="#86a8dc" stroke="#111a3e" stroke-width="1.15" stroke-linejoin="round"/>
<path d="M561.50 409.05L561.50 431.95" stroke="#111a3e" stroke-width="0.8" fill="none"/>
<path d="M585.50 413.15L585.50 427.85" stroke="#111a3e" stroke-width="0.8" fill="none"/>
<polygon points="602.70,413.70 604.90,416.34 604.90,424.66 602.70,427.30" fill="#5676b8" opacity="0.75"/>
<path d="M602.50 413.50L602.50 427.50" stroke="#111a3e" stroke-width="0.8" fill="none"/>
<path d="M605.50 416.04L605.50 424.96" stroke="#111a3e" stroke-width="0.9" fill="none"/>
<path d="M663.50 419.20H670.90L671.80 420.10V421.80H663.50Z" fill="#2a2422"/>
<path d="M539.50 402.10H544.20L546.00 405.40H548.40L550.20 402.10H553.10L553.70 402.90V438.10L553.10 438.90H550.20L548.40 435.60H546.00L544.20 438.90H539.50L538.80 438.10V402.90Z" fill="#86a8dc" stroke="#111a3e" stroke-width="1.25" stroke-linejoin="round"/>
<rect x="546.20" y="405.40" width="2.0" height="30.20" fill="#6f8fcb"/>
<path d="M544.50 402.50L544.50 438.50" stroke="#111a3e" stroke-width="0.8" fill="none"/>
<path d="M546.50 405.40L546.50 435.60" stroke="#111a3e" stroke-width="0.8" fill="none"/>
<path d="M548.50 405.40L548.50 435.60" stroke="#111a3e" stroke-width="0.8" fill="none"/>
<path d="M550.50 402.50L550.50 438.50" stroke="#111a3e" stroke-width="0.8" fill="none"/>
<path d="M537.50 357.50L663.50 357.50" stroke="#242424" stroke-width="0.85" fill="none"/>
<polygon points="537.50,357.50 540.20,356.50 540.20,358.50" fill="#242424"/>
<polygon points="663.50,357.50 660.80,356.50 660.80,358.50" fill="#242424"/>
<path d="M537.50 356.30L537.50 399.30" stroke="#242424" stroke-width="0.85" fill="none"/>
<path d="M663.50 356.30L663.50 418.00" stroke="#242424" stroke-width="0.85" fill="none"/>
<text x="594.30" y="354.60" font-size="9.8" font-weight="normal" fill="#1a1a1a" textLength="19.20" lengthAdjust="spacingAndGlyphs" stroke="#1a1a1a" stroke-width="0.12" >210</text>
<path d="M553.50 371.50L663.50 371.50" stroke="#242424" stroke-width="0.85" fill="none"/>
<polygon points="553.50,371.50 556.20,370.50 556.20,372.50" fill="#242424"/>
<polygon points="585.50,371.50 582.80,370.50 582.80,372.50" fill="#242424"/>
<polygon points="585.50,371.50 588.20,370.50 588.20,372.50" fill="#242424"/>
<polygon points="663.50,371.50 660.80,370.50 660.80,372.50" fill="#242424"/>
<path d="M553.50 370.30L553.50 399.30" stroke="#242424" stroke-width="0.85" fill="none"/>
<path d="M585.50 370.30L585.50 412.50" stroke="#242424" stroke-width="0.85" fill="none"/>
<text x="563.70" y="369.70" font-size="9.8" font-weight="normal" fill="#1a1a1a" textLength="13.00" lengthAdjust="spacingAndGlyphs" stroke="#1a1a1a" stroke-width="0.12" >53</text>
<text x="615.80" y="369.70" font-size="9.8" font-weight="normal" fill="#1a1a1a" textLength="19.20" lengthAdjust="spacingAndGlyphs" stroke="#1a1a1a" stroke-width="0.12" >130</text>
<path d="M585.50 386.50L663.50 386.50" stroke="#242424" stroke-width="0.85" fill="none"/>
<polygon points="585.50,386.50 588.20,385.50 588.20,387.50" fill="#242424"/>
<polygon points="605.50,386.50 602.80,385.50 602.80,387.50" fill="#242424"/>
<polygon points="605.50,386.50 608.20,385.50 608.20,387.50" fill="#242424"/>
<polygon points="663.50,386.50 660.80,385.50 660.80,387.50" fill="#242424"/>
<path d="M605.50 385.30L605.50 413.50" stroke="#242424" stroke-width="0.85" fill="none"/>
<text x="588.60" y="383.70" font-size="9.8" font-weight="normal" fill="#1a1a1a" textLength="13.50" lengthAdjust="spacingAndGlyphs" stroke="#1a1a1a" stroke-width="0.12" >33</text>
<text x="627.20" y="383.70" font-size="9.8" font-weight="normal" fill="#1a1a1a" textLength="13.40" lengthAdjust="spacingAndGlyphs" stroke="#1a1a1a" stroke-width="0.12" >97</text>
<g >
<text x="569.80" y="400.80" font-size="8.8" font-weight="normal" fill="#1a1a1a" textLength="13.10" lengthAdjust="spacingAndGlyphs" stroke="#1a1a1a" stroke-width="0.12" >10</text>
<text x="582.60" y="398.20" font-size="5.6" font-weight="normal" fill="#1a1a1a" stroke="#1a1a1a" stroke-width="0.25" >°</text>
</g>
<path d="M583.40 403.50H573.20L569.80 408.40" stroke="#242424" stroke-width="0.85" fill="none"/>
<g transform="rotate(-6 590.2 399.5)">
<text x="589.80" y="399.50" font-size="8.8" font-weight="normal" fill="#1a1a1a" textLength="13.10" lengthAdjust="spacingAndGlyphs" stroke="#1a1a1a" stroke-width="0.12" >20</text>
<text x="602.60" y="396.90" font-size="5.6" font-weight="normal" fill="#1a1a1a" stroke="#1a1a1a" stroke-width="0.25" >°</text>
</g>
<path d="M602.30 411.90L598.30 401.90" stroke="#242424" stroke-width="0.85" fill="none"/>
<path d="M597.90 401.70Q601.80 399.50 605.30 400.90" stroke="#242424" stroke-width="1.0" fill="none"/>
<g >
<text x="628.40" y="408.80" font-size="8.8" font-weight="normal" fill="#1a1a1a" textLength="7.50" lengthAdjust="spacingAndGlyphs" stroke="#1a1a1a" stroke-width="0.12" >3</text>
<text x="635.60" y="406.20" font-size="5.6" font-weight="normal" fill="#1a1a1a" stroke="#1a1a1a" stroke-width="0.25" >°</text>
</g>
<path d="M637.40 410.50H626.00L623.10 415.30" stroke="#242424" stroke-width="0.85" fill="none"/>
<text x="608.40" y="435.55" font-size="8.91" font-style="italic" fill="#1a1a1a" stroke="#1a1a1a" stroke-width="0.06" textLength="6.94" lengthAdjust="spacingAndGlyphs">ϕ</text>
<text x="615.64" y="435.85" font-size="9.9" font-weight="normal" fill="#1a1a1a" textLength="22.06" lengthAdjust="spacingAndGlyphs" stroke="#1a1a1a" stroke-width="0.12" >16.2</text>
<path d="M637.90 438.50H605.50V429.80" stroke="#242424" stroke-width="0.85" fill="none"/>
<polygon points="605.50,428.80 604.50,431.50 606.50,431.50" fill="#242424"/>
<text x="559.60" y="447.25" font-size="8.91" font-style="italic" fill="#1a1a1a" stroke="#1a1a1a" stroke-width="0.06" textLength="7.63" lengthAdjust="spacingAndGlyphs">ϕ</text>
<text x="567.53" y="447.55" font-size="9.9" font-weight="normal" fill="#1a1a1a" textLength="13.77" lengthAdjust="spacingAndGlyphs" stroke="#1a1a1a" stroke-width="0.12" >40</text>
<path d="M581.50 450.50H557.50V434.20" stroke="#242424" stroke-width="0.85" fill="none"/>
<polygon points="557.50,433.20 556.50,435.90 558.50,435.90" fill="#242424"/>
<text x="593.80" y="447.25" font-size="8.91" font-style="italic" fill="#1a1a1a" stroke="#1a1a1a" stroke-width="0.06" textLength="7.43" lengthAdjust="spacingAndGlyphs">ϕ</text>
<text x="601.53" y="447.55" font-size="9.9" font-weight="normal" fill="#1a1a1a" textLength="13.37" lengthAdjust="spacingAndGlyphs" stroke="#1a1a1a" stroke-width="0.12" >26</text>
<path d="M615.10 450.50H591.50V431.70" stroke="#242424" stroke-width="0.85" fill="none"/>
<polygon points="591.50,430.70 590.50,433.40 592.50,433.40" fill="#242424"/>
<text x="505.50" y="422.90" font-size="7.3" font-weight="bold" fill="#18244a" textLength="11.40" lengthAdjust="spacingAndGlyphs" >No.</text>
<text x="517.40" y="422.90" font-size="10.3" font-weight="bold" fill="#18244a" textLength="7.20" lengthAdjust="spacingAndGlyphs" stroke="#18244a" stroke-width="0.15" >9</text>
<text x="675.50" y="398.10" font-size="8.91" font-style="italic" fill="#1a1a1a" stroke="#1a1a1a" stroke-width="0.06" textLength="7.32" lengthAdjust="spacingAndGlyphs">ϕ</text>
<text x="683.12" y="398.40" font-size="9.9" font-weight="normal" fill="#1a1a1a" textLength="6.48" lengthAdjust="spacingAndGlyphs" stroke="#1a1a1a" stroke-width="0.12" >6</text>
<path d="M691.10 402.50H672.50V415.90" stroke="#242424" stroke-width="0.85" fill="none"/>
<polygon points="672.50,416.90 671.50,414.20 673.50,414.20" fill="#242424"/>
<path d="M666.20 418.50L675.70 418.50" stroke="#242424" stroke-width="0.85" fill="none"/>
<text x="720.35" y="436.90" font-size="9.7" font-weight="bold" fill="#111" textLength="17.40" lengthAdjust="spacingAndGlyphs" stroke="#111" stroke-width="0.3" >22.</text>
<text x="738.25" y="436.90" font-size="7.2" font-weight="bold" fill="#111" textLength="5.90" lengthAdjust="spacingAndGlyphs" stroke="#111" stroke-width="0.25" >1</text>
<polygon points="728.52,439.40 736.08,439.40 736.08,442.63 739.30,442.63 732.30,449.50 725.30,442.63 728.52,442.63" fill="#e60012"/>
<polygon points="728.52,439.40 736.08,439.40 736.08,441.00 728.52,441.00" fill="#a8000c" opacity="0.55"/>
</svg>
</body></html>
